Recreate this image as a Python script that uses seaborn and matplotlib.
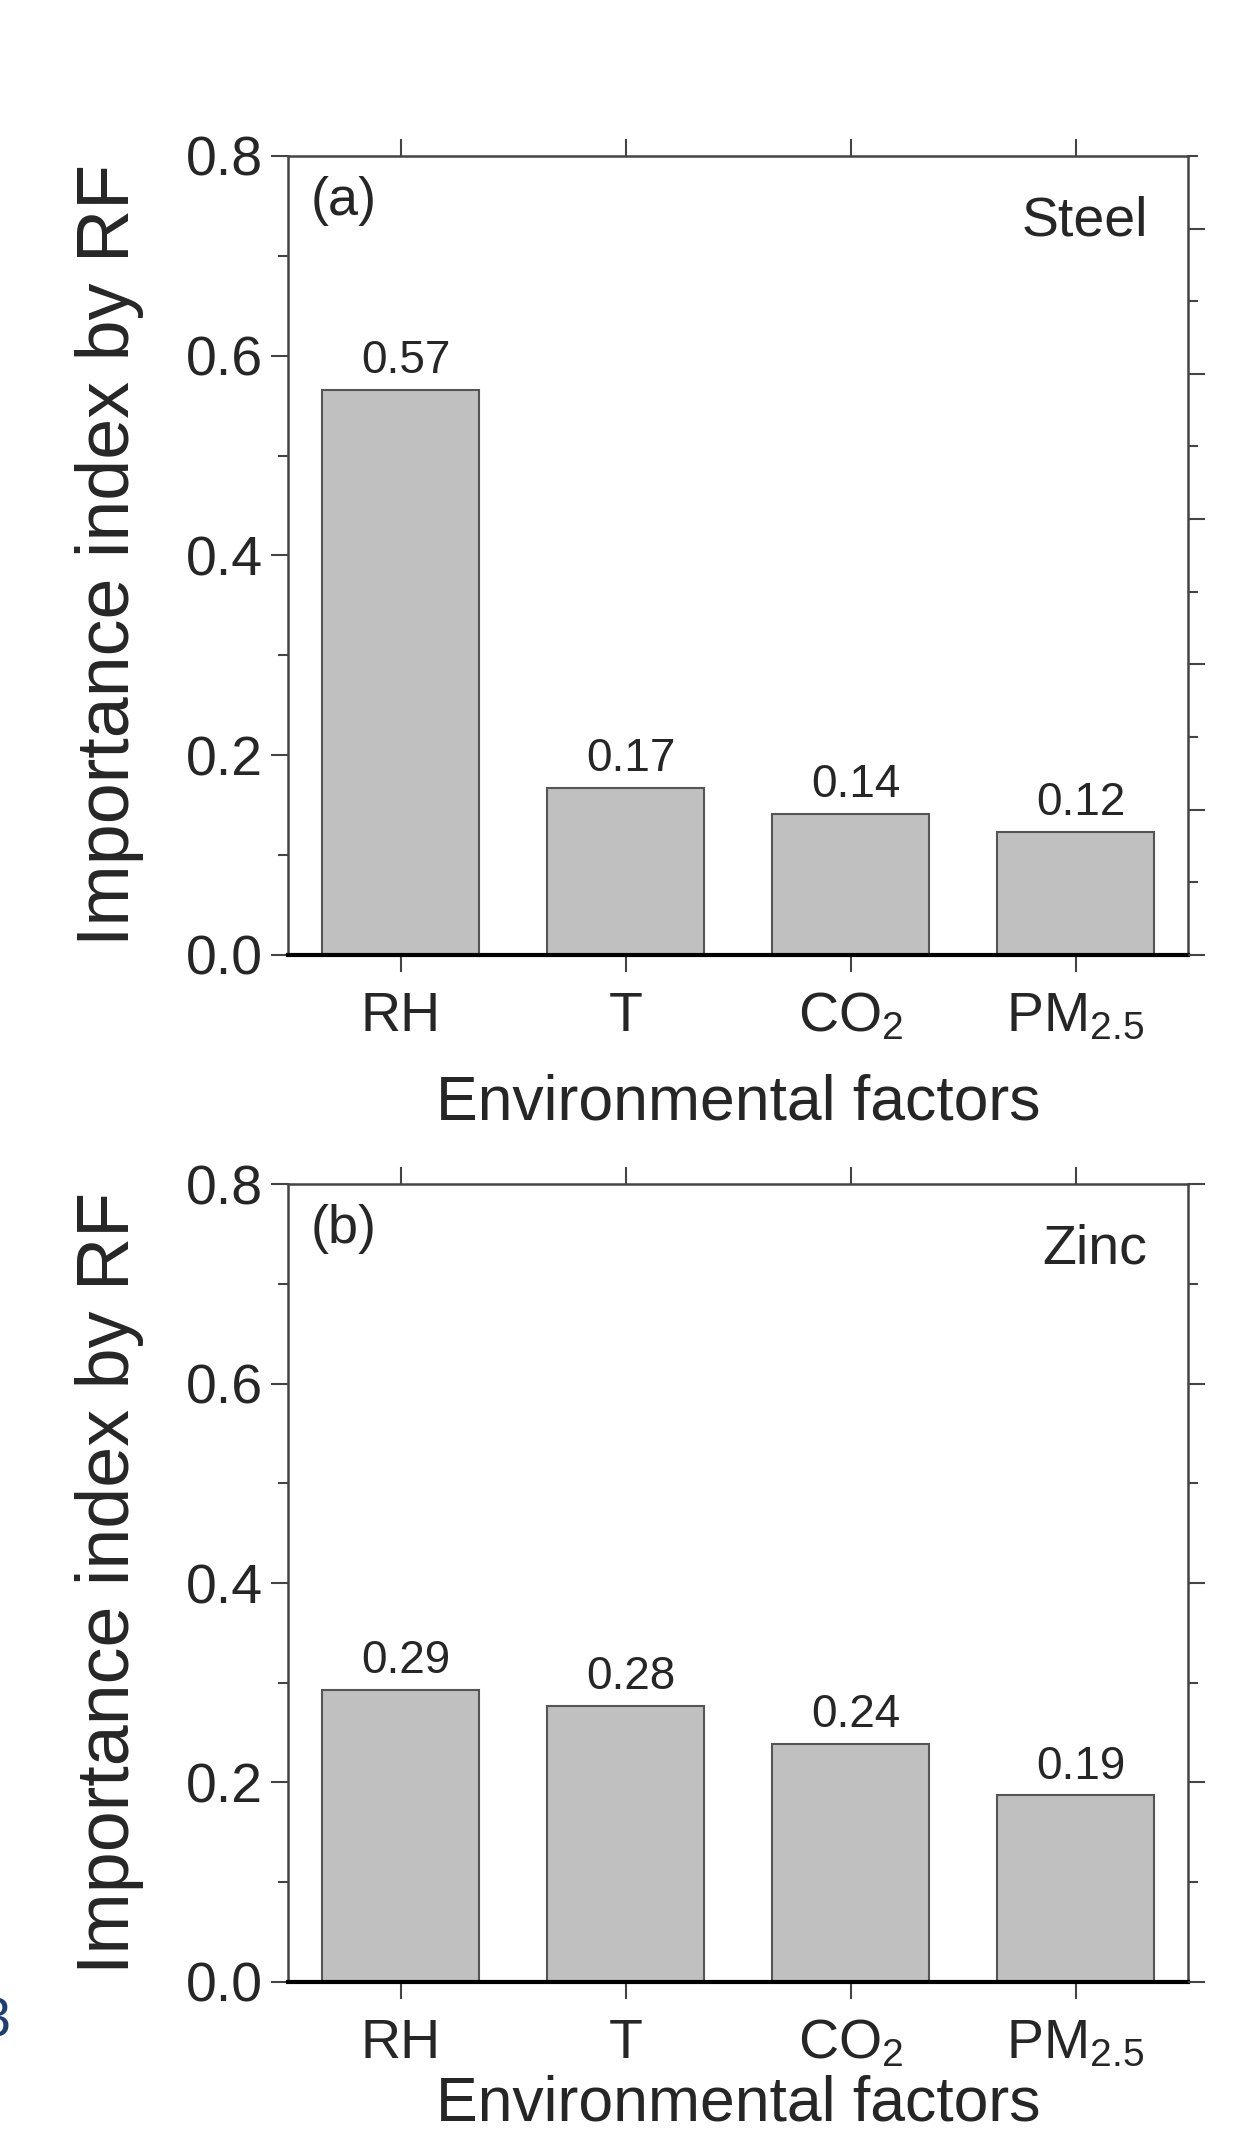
import numpy as np
import pandas as pd
import matplotlib
matplotlib.use('Agg')
import matplotlib.pyplot as plt
from matplotlib.ticker import MultipleLocator
import seaborn as sns

# Datos
factores = ['RH', 'T', 'CO$_2$', 'PM$_{2.5}$']
imp_acero = [0.566, 0.167, 0.141, 0.123]
imp_zinc = [0.293, 0.277, 0.239, 0.187]
paneles = ['(a)', '(b)']
materiales = ['Steel', 'Zinc']

sns.set_style('ticks')
plt.rcParams['font.family'] = ['Liberation Sans', 'DejaVu Sans']
plt.rcParams['mathtext.default'] = 'regular'

fig = plt.figure(figsize=(12.49, 21.33), dpi=100)
ax_a = fig.add_axes([0.2306, 0.5523, 0.7206, 0.3746])
ax_b = fig.add_axes([0.2306, 0.0708, 0.7206, 0.3741])

datos = [imp_acero, imp_zinc]
ylim_der = [1.1, 0.8]   # el eje derecho de (a) no coincide con el izquierdo
labelpads = [22, 3]

for ax, vals, pan, mat, yr, lp in zip([ax_a, ax_b], datos, paneles, materiales, ylim_der, labelpads):
    df = pd.DataFrame({'factor': factores, 'imp': vals})
    sns.barplot(data=df, x='factor', y='imp', ax=ax, color='#c0c0c0',
                edgecolor='#555555', linewidth=1.5, width=0.7, saturation=1)
    ax.set_xlim(-0.5, 3.5)
    ax.set_ylim(0, 0.8)
    ax.yaxis.set_major_locator(MultipleLocator(0.2))
    ax.yaxis.set_minor_locator(MultipleLocator(0.1))
    ax.yaxis.set_major_formatter(matplotlib.ticker.FormatStrFormatter('%.1f'))
    ax.xaxis.set_ticks_position('both')
    ax.tick_params(axis='x', which='both', direction='out', length=12, width=1.5,
                   color='#444444', labelsize=40, pad=14)
    ax.tick_params(axis='y', which='major', direction='out', length=12, width=1.5,
                   color='#444444', labelsize=40, pad=6, right=False)
    ax.tick_params(axis='y', which='minor', direction='out', length=7, width=1.5,
                   color='#444444', right=False)
    for s in ['left', 'top', 'right']:
        ax.spines[s].set_color('#444444')
        ax.spines[s].set_linewidth(1.8)
    ax.spines['bottom'].set_color('black')
    ax.spines['bottom'].set_linewidth(3)
    ax.set_xlabel('Environmental factors', fontsize=45, labelpad=lp)
    ax.set_ylabel('Importance index by RF', fontsize=53, labelpad=30)

    for i, v in enumerate(vals):
        ax.annotate(f'{v:.2f}', (i, v), xytext=(4, 5), textcoords='offset points',
                    ha='center', va='bottom', fontsize=33)

    ax.text(0.025, 0.975, pan, transform=ax.transAxes, ha='left', va='top', fontsize=39)
    ax.text(0.955, 0.95, mat, transform=ax.transAxes, ha='right', va='top', fontsize=40)

    # eje derecho
    ax2 = ax.twinx()
    ax2.set_ylim(0, yr)
    ax2.yaxis.set_major_locator(MultipleLocator(0.2))
    ax2.yaxis.set_minor_locator(MultipleLocator(0.1))
    ax2.tick_params(axis='y', which='major', direction='out', length=12, width=1.5,
                    color='#444444', labelright=False)
    ax2.tick_params(axis='y', which='minor', direction='out', length=7, width=1.5,
                    color='#444444')
    for s in ax2.spines.values():
        s.set_visible(False)

# resto de otra figura recortada en el borde
fig.text(-0.016, 0.052, '3', fontsize=40, color='#1f3f73', ha='left', va='center')

fig.savefig('out.png', dpi=100)
